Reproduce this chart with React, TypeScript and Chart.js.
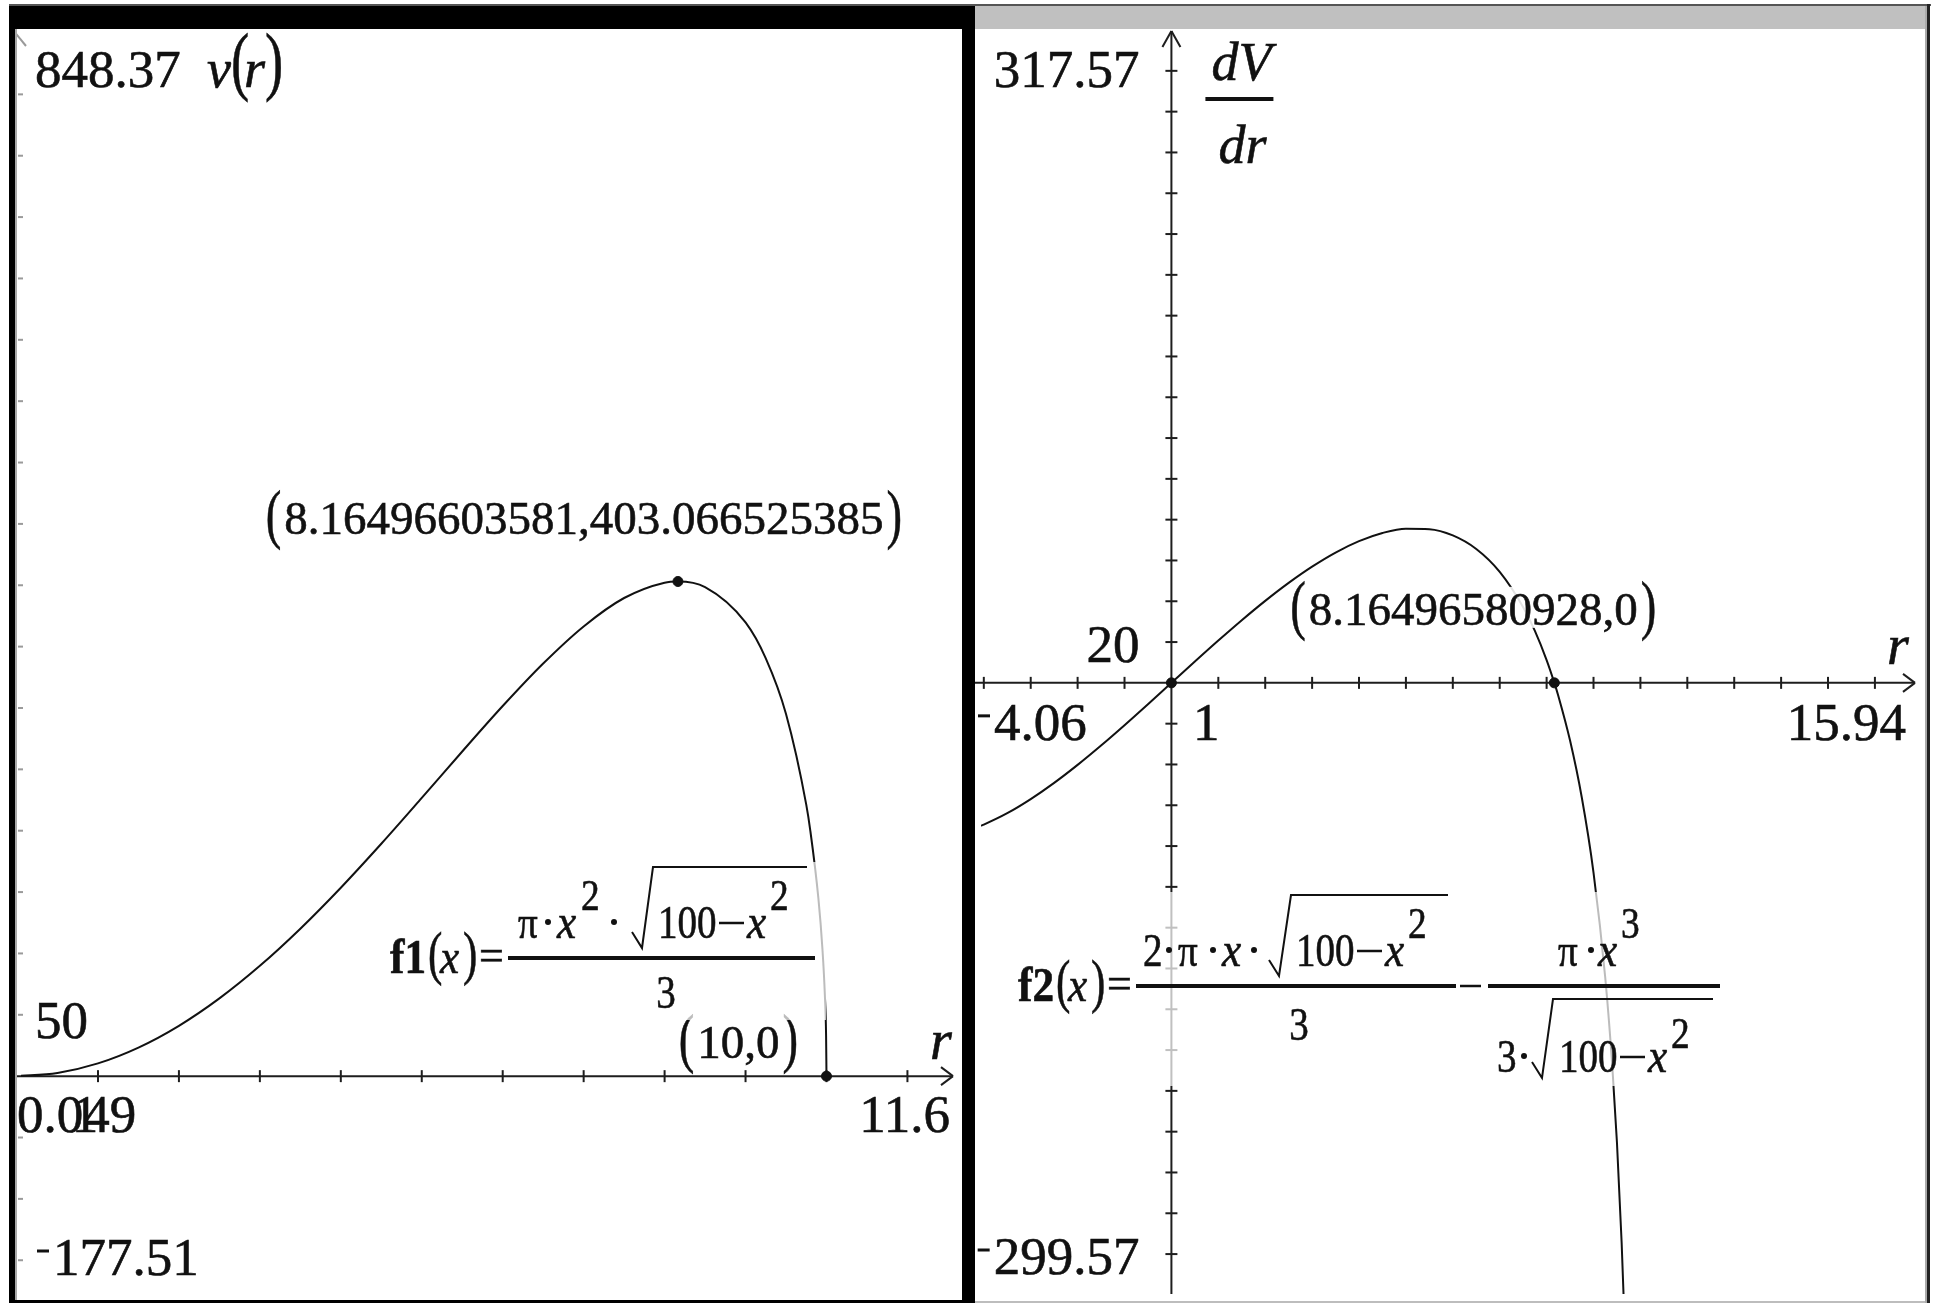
import React, { useEffect, useRef } from "react";
import { Chart, registerables } from "chart.js";

Chart.register(...registerables);

// ---- v(r): cone volume against radius ----
const vR = [0, 0.5, 1, 1.5, 2, 2.5, 3, 3.5, 4, 4.5, 5, 5.5, 6, 6.5, 7, 7.5, 8, 8.165, 8.5, 9, 9.25, 9.5, 9.75, 9.8, 9.9, 9.95, 9.98, 9.995, 10];
const vValues = [0, 2.62, 10.42, 23.3, 41.04, 63.37, 89.91, 120.17, 153.56, 189.37, 226.72, 264.56, 301.59, 336.23, 366.45, 389.62, 402.12, 403.07, 398.56, 369.73, 340.45, 295.11, 221.2, 200.14, 144.79, 103.55, 65.93, 33.08, 0];
const vMarkX = [8.16496603581, 10];
const vMarkY = [403.066525385, 0];
const vMarkLabels = ["8.16496603581,403.066525385", "10,0"];
const vXRange = [0.049, 11.6];
const vYRange = [-177.51, 848.37];
const vTickStep = [1, 50];
const vRangeLabels = ["0.049", "11.6", "-177.51", "848.37"];
const vScaleLabels = ["1", "50"];

// ---- dV/dr: derivative of the volume ----
const dR = [-4.06, -4, -3.5, -3, -2.5, -2, -1.5, -1, -0.5, 0, 0.5, 1, 1.5, 2, 2.5, 3, 3.5, 4, 4.5, 5, 5.5, 6, 6.5, 7, 7.5, 7.75, 8, 8.165, 8.25, 8.5, 8.75, 9, 9.25, 9.4, 9.5, 9.6, 9.65, 9.7];
const dValues = [-70.04, -69.47, -63.88, -56.97, -49.01, -40.19, -30.7, -20.73, -10.45, 0, 10.45, 20.73, 30.7, 40.19, 49.01, 56.97, 63.88, 69.47, 73.48, 75.58, 75.34, 72.26, 65.61, 54.4, 37.11, 25.44, 11.17, 0, -6.4, -28.3, -56.2, -92.97, -144.5, -187.78, -225.4, -274.6, -305.9, -343.8];
const dMarkX = [0, 8.16496580928];
const dMarkY = [0, 0];
const dMarkLabels = ["8.16496580928,0"];
const dXRange = [-4.06, 15.94];
const dYRange = [-299.57, 317.57];
const dTickStep = [1, 20];
const dRangeLabels = ["-4.06", "15.94", "-299.57", "317.57"];
const dScaleLabels = ["1", "20"];

const SERIF = '"Liberation Serif", "Times New Roman", serif';
const INK = "#111";
const AXIS = "#1e1e1e";
const NUM = 53;

type Ctx = CanvasRenderingContext2D;

function font(size: number, style = "") {
  return `${style} ${size}px ${SERIF}`.trim();
}

// Text with an optional horizontal squeeze (the handheld font is narrow)
function text(
  ctx: Ctx,
  s: string,
  x: number,
  y: number,
  size: number,
  style = "",
  align: CanvasTextAlign = "left",
  sx = 1
) {
  ctx.save();
  ctx.font = font(size, style);
  ctx.textAlign = align;
  ctx.textBaseline = "alphabetic";
  ctx.fillStyle = INK;
  ctx.strokeStyle = INK;
  ctx.lineWidth = 0.6;
  ctx.translate(x, y);
  ctx.scale(sx, 1);
  ctx.fillText(s, 0, 0);
  ctx.strokeText(s, 0, 0);
  ctx.restore();
}

function seg(ctx: Ctx, x1: number, y1: number, x2: number, y2: number) {
  ctx.beginPath();
  ctx.moveTo(x1, y1);
  ctx.lineTo(x2, y2);
  ctx.stroke();
}

function dot(ctx: Ctx, x: number, y: number, r = 3) {
  ctx.beginPath();
  ctx.arc(x, y, r, 0, Math.PI * 2);
  ctx.fillStyle = INK;
  ctx.fill();
}

// Number with a raised short negative sign
function numLabel(ctx: Ctx, s: string, x: number, y: number, align: "left" | "right" = "left") {
  const neg = s.startsWith("-");
  const body = neg ? s.slice(1) : s;
  ctx.font = font(NUM);
  const w = ctx.measureText(body).width;
  const bodyLeft = align === "left" ? x + (neg ? 16 : 0) : x - w;
  text(ctx, body, bodyLeft, y, NUM);
  if (neg) {
    ctx.save();
    ctx.strokeStyle = INK;
    ctx.lineWidth = 3;
    seg(ctx, bodyLeft - 16, y - 24, bodyLeft - 4, y - 24);
    ctx.restore();
  }
}

// tall, thin parenthesis
function paren(ctx: Ctx, p: string, x: number, y: number, size: number, align: CanvasTextAlign = "left") {
  text(ctx, p, x, y, size, "", align, 0.72);
}

// "(a,b)" point label
function pointLabel(ctx: Ctx, s: string, cx: number, y: number, size = 47) {
  ctx.font = font(size);
  const w = ctx.measureText(s).width;
  text(ctx, s, cx, y, size, "", "center");
  const p = Math.round(size * 1.38);
  paren(ctx, "(", cx - w / 2 - 3, y + 2, p, "right");
  paren(ctx, ")", cx + w / 2 + 3, y + 2, p, "left");
}

function radical(ctx: Ctx, x: number, y: number, pts: number[][]) {
  ctx.save();
  ctx.strokeStyle = INK;
  ctx.lineWidth = 2;
  ctx.lineJoin = "miter";
  ctx.beginPath();
  pts.forEach(([px, py], i) => (i ? ctx.lineTo(x + px, y + py) : ctx.moveTo(x + px, y + py)));
  ctx.stroke();
  ctx.restore();
}

function bar(ctx: Ctx, x1: number, x2: number, y: number, w = 4) {
  ctx.fillStyle = INK;
  ctx.fillRect(x1, y - w / 2, x2 - x1, w);
}

function minus(ctx: Ctx, x1: number, x2: number, y: number) {
  ctx.save();
  ctx.strokeStyle = INK;
  ctx.lineWidth = 2.5;
  seg(ctx, x1, y, x2, y);
  ctx.restore();
}

const DIG = 46;
const DSX = 0.85;
const VAR = 48;
const VSX = 0.9;

function dig(ctx: Ctx, s: string, x: number, y: number, align: CanvasTextAlign = "left") {
  text(ctx, s, x, y, DIG, "", align, DSX);
}
function sup(ctx: Ctx, s: string, x: number, y: number) {
  text(ctx, s, x, y, 44, "", "left", DSX);
}
function vx(ctx: Ctx, x: number, y: number) {
  text(ctx, "x", x, y, VAR, "italic", "left", VSX);
}

function fnName(ctx: Ctx, name: string, ax: number, ay: number) {
  text(ctx, name, ax - 118, ay + 15, 48, "bold", "left", 0.9);
  paren(ctx, "(", ax - 80, ay + 15, 60);
  vx(ctx, ax - 68, ay + 15);
  paren(ctx, ")", ax - 45, ay + 15, 60);
  text(ctx, "=", ax - 29, ay + 12, 44);
}

function xAxisArrow(ctx: Ctx, tipX: number, y: number) {
  seg(ctx, tipX - 12, y - 9, tipX, y);
  seg(ctx, tipX - 12, y + 9, tipX, y);
}

function intTicks(min: number, max: number, step: number) {
  const out: number[] = [];
  for (let i = Math.ceil(min / step); i * step <= max; i++) if (i !== 0) out.push(i * step);
  return out;
}

const vPanel = {
  id: "vPanel",
  beforeDatasetsDraw(chart: any) {
    const { ctx } = chart;
    const xs = chart.scales.x;
    const ys = chart.scales.y;
    const ay = ys.getPixelForValue(0);
    const right = chart.chartArea.right;
    ctx.save();
    ctx.strokeStyle = AXIS;
    ctx.lineWidth = 2;
    seg(ctx, 0, ay, right - 3, ay);
    xAxisArrow(ctx, right - 3, ay);
    intTicks(vXRange[0], vXRange[1], vTickStep[0]).forEach((v) => {
      const p = xs.getPixelForValue(v);
      seg(ctx, p, ay - 6, p, ay + 6);
    });
    // the r = 0 axis lies under the panel border; only its ticks show
    ctx.strokeStyle = "#9a9a9a";
    intTicks(vYRange[0], vYRange[1], vTickStep[1]).forEach((v) => {
      const p = ys.getPixelForValue(v);
      seg(ctx, 3, p, 8, p);
    });
    seg(ctx, -2, 1, 11, 17);
    ctx.restore();
  },
  afterDatasetsDraw(chart: any) {
    const { ctx } = chart;
    const xs = chart.scales.x;
    const ys = chart.scales.y;
    const ay = ys.getPixelForValue(0);
    const right = chart.chartArea.right;
    ctx.save();

    // window labels
    numLabel(ctx, vRangeLabels[3], 20, 58);
    text(ctx, "v", 192, 58, 54, "italic");
    paren(ctx, "(", 216, 57, 76);
    text(ctx, "r", 229, 58, 54, "italic");
    paren(ctx, ")", 250, 57, 76);
    numLabel(ctx, vScaleLabels[1], 20, ys.getPixelForValue(vTickStep[1]) + 23);
    numLabel(ctx, vRangeLabels[2], 22, chart.chartArea.bottom - 19);
    numLabel(ctx, vRangeLabels[0], 2, ay + 56);
    text(ctx, vScaleLabels[0], xs.getPixelForValue(vTickStep[0]) - 13, ay + 56, NUM, "", "center");
    numLabel(ctx, vRangeLabels[1], right - 6, ay + 56, "right");
    text(ctx, "r", right - 26, ay - 17, 56, "italic");

    // point labels
    pointLabel(ctx, vMarkLabels[0], xs.getPixelForValue(vMarkX[0]) - 94, ys.getPixelForValue(vMarkY[0]) - 47);
    pointLabel(ctx, vMarkLabels[1], xs.getPixelForValue(vMarkX[1]) - 88, ay - 18);

    // f1 definition label
    const fx = 493;
    const fy = 929;
    ctx.fillStyle = "rgba(255,255,255,0.72)";
    ctx.fillRect(fx - 120, fy - 96, 438, 158);
    fnName(ctx, "f1", fx, fy);
    bar(ctx, fx, fx + 307, fy);
    dig(ctx, "π", fx + 10, fy - 20);
    dot(ctx, fx + 40, fy - 36);
    vx(ctx, fx + 49, fy - 20);
    sup(ctx, "2", fx + 73, fy - 48);
    dot(ctx, fx + 106, fy - 36);
    radical(ctx, fx, fy, [[124, -26], [134, -10], [145, -91], [299, -91]]);
    dig(ctx, "100", fx + 150, fy - 20);
    minus(ctx, fx + 211, fx + 236, fy - 35);
    vx(ctx, fx + 239, fy - 20);
    sup(ctx, "2", fx + 262, fy - 48);
    dig(ctx, "3", fx + 158, fy + 50, "center");
    ctx.restore();
  },
};

const dPanel = {
  id: "dPanel",
  beforeDatasetsDraw(chart: any) {
    const { ctx } = chart;
    const xs = chart.scales.x;
    const ys = chart.scales.y;
    const ay = ys.getPixelForValue(0);
    const ax = xs.getPixelForValue(0);
    const { right, bottom } = chart.chartArea;
    ctx.save();
    ctx.strokeStyle = AXIS;
    ctx.lineWidth = 2;
    seg(ctx, 0, ay, right - 4, ay);
    xAxisArrow(ctx, right - 4, ay);
    seg(ctx, ax, 2, ax, bottom);
    seg(ctx, ax - 9, 18, ax, 2);
    seg(ctx, ax + 9, 18, ax, 2);
    intTicks(dXRange[0], dXRange[1], dTickStep[0]).forEach((v) => {
      const p = xs.getPixelForValue(v);
      seg(ctx, p, ay - 6, p, ay + 6);
    });
    intTicks(dYRange[0], dYRange[1], dTickStep[1]).forEach((v) => {
      const p = ys.getPixelForValue(v);
      seg(ctx, ax - 6, p, ax + 6, p);
    });
    ctx.restore();
  },
  afterDatasetsDraw(chart: any) {
    const { ctx } = chart;
    const xs = chart.scales.x;
    const ys = chart.scales.y;
    const ay = ys.getPixelForValue(0);
    const ax = xs.getPixelForValue(0);
    const { right, bottom } = chart.chartArea;
    ctx.save();

    // window labels
    numLabel(ctx, dRangeLabels[3], ax - 32, 58, "right");
    numLabel(ctx, dScaleLabels[1], ax - 32, ys.getPixelForValue(dTickStep[1]) + 20, "right");
    numLabel(ctx, dRangeLabels[2], ax - 32, bottom - 20, "right");
    numLabel(ctx, dRangeLabels[0], 3, ay + 57);
    text(ctx, dScaleLabels[0], xs.getPixelForValue(dTickStep[0]) - 12, ay + 57, NUM, "", "center");
    numLabel(ctx, dRangeLabels[1], right - 13, ay + 57, "right");
    text(ctx, "r", right - 32, ay - 19, 56, "italic");

    // dV/dr axis title
    text(ctx, "dV", ax + 40, 51, 54, "italic");
    bar(ctx, ax + 34, ax + 102, 70, 4);
    text(ctx, "dr", ax + 47, 134, 54, "italic");

    // root label
    const lx = xs.getPixelForValue(dMarkX[1]) - 81;
    const ly = ay - 58;
    ctx.fillStyle = "rgba(255,255,255,0.88)";
    ctx.fillRect(lx - 187, ly - 38, 373, 41);
    pointLabel(ctx, dMarkLabels[0], lx, ly);

    // f2 definition label
    const fx = 161;
    const fy = 957;
    ctx.fillStyle = "rgba(255,255,255,0.72)";
    ctx.fillRect(fx - 121, fy - 94, 707, 194);
    fnName(ctx, "f2", fx, fy);
    bar(ctx, fx, fx + 320, fy);
    dig(ctx, "2", fx + 7, fy - 20);
    dot(ctx, fx + 33, fy - 36);
    dig(ctx, "π", fx + 42, fy - 20);
    dot(ctx, fx + 77, fy - 36);
    vx(ctx, fx + 86, fy - 20);
    dot(ctx, fx + 118, fy - 36);
    radical(ctx, fx, fy, [[133, -26], [143, -10], [155, -91], [312, -91]]);
    dig(ctx, "100", fx + 160, fy - 20);
    minus(ctx, fx + 221, fx + 246, fy - 35);
    vx(ctx, fx + 249, fy - 20);
    sup(ctx, "2", fx + 272, fy - 48);
    dig(ctx, "3", fx + 163, fy + 54, "center");

    minus(ctx, fx + 324, fx + 345, fy);
    bar(ctx, fx + 352, fx + 584, fy);
    dig(ctx, "π", fx + 422, fy - 20);
    dot(ctx, fx + 455, fy - 36);
    vx(ctx, fx + 462, fy - 20);
    sup(ctx, "3", fx + 485, fy - 48);

    dig(ctx, "3", fx + 361, fy + 86);
    dot(ctx, fx + 388, fy + 70);
    radical(ctx, fx, fy, [[396, 76], [406, 92], [417, 13], [577, 13]]);
    dig(ctx, "100", fx + 423, fy + 86);
    minus(ctx, fx + 484, fx + 509, fy + 71);
    vx(ctx, fx + 512, fy + 86);
    sup(ctx, "2", fx + 535, fy + 62);
    ctx.restore();
  },
};

function pts(xs: number[], ys: number[]) {
  return xs.map((x, i) => ({ x, y: ys[i] }));
}

function makeConfig(
  curveX: number[],
  curveY: number[],
  markX: number[],
  markY: number[],
  xr: number[],
  yr: number[],
  plugin: any
): any {
  return {
    type: "scatter",
    data: {
      datasets: [
        {
          data: pts(markX, markY),
          pointRadius: 5,
          pointBackgroundColor: INK,
          pointBorderColor: INK,
          showLine: false,
        },
        {
          data: pts(curveX, curveY),
          showLine: true,
          borderColor: INK,
          borderWidth: 2,
          pointRadius: 0,
          cubicInterpolationMode: "monotone",
          fill: false,
        },
      ],
    },
    options: {
      animation: false,
      responsive: false,
      maintainAspectRatio: false,
      devicePixelRatio: 1,
      events: [],
      layout: { padding: 0 },
      scales: {
        x: { type: "linear", min: xr[0], max: xr[1], display: false },
        y: { type: "linear", min: yr[0], max: yr[1], display: false },
      },
      plugins: { legend: { display: false }, tooltip: { enabled: false } },
    },
    plugins: [plugin],
  };
}

const box = (l: number, t: number, w: number, h: number, bg: string): React.CSSProperties => ({
  position: "absolute",
  left: l,
  top: t,
  width: w,
  height: h,
  background: bg,
});

export default function App() {
  const leftRef = useRef<HTMLCanvasElement>(null);
  const rightRef = useRef<HTMLCanvasElement>(null);

  useEffect(() => {
    const c1 = new Chart(leftRef.current!, makeConfig(vR, vValues, vMarkX, vMarkY, vXRange, vYRange, vPanel));
    const c2 = new Chart(rightRef.current!, makeConfig(dR, dValues, dMarkX, dMarkY, dXRange, dYRange, dPanel));
    return () => {
      c1.destroy();
      c2.destroy();
    };
  }, []);

  return (
    <div style={{ position: "fixed", left: 0, top: 0, width: 1940, height: 1303, background: "#fff", overflow: "hidden" }}>
      <canvas
        ref={leftRef}
        width={947}
        height={1271}
        style={{ position: "absolute", left: 15, top: 29, width: 947, height: 1271 }}
      />
      <canvas
        ref={rightRef}
        width={950}
        height={1271}
        style={{ position: "absolute", left: 975, top: 29, width: 950, height: 1271 }}
      />
      {/* window frames */}
      <div style={box(9, 4, 1922, 2, "#555")} />
      <div style={box(9, 6, 966, 23, "#000")} />
      <div style={box(975, 6, 950, 23, "#c0c0c0")} />
      <div style={box(9, 6, 6, 1297, "#000")} />
      <div style={box(15, 29, 2, 1271, "#a8a8a8")} />
      <div style={box(962, 6, 13, 1297, "#000")} />
      <div style={box(9, 1300, 966, 3, "#000")} />
      <div style={box(975, 1301, 952, 2, "#bdbdbd")} />
      <div style={box(1925, 6, 2, 1297, "#aaa")} />
      <div style={box(1927, 4, 3, 1299, "#222")} />
    </div>
  );
}
